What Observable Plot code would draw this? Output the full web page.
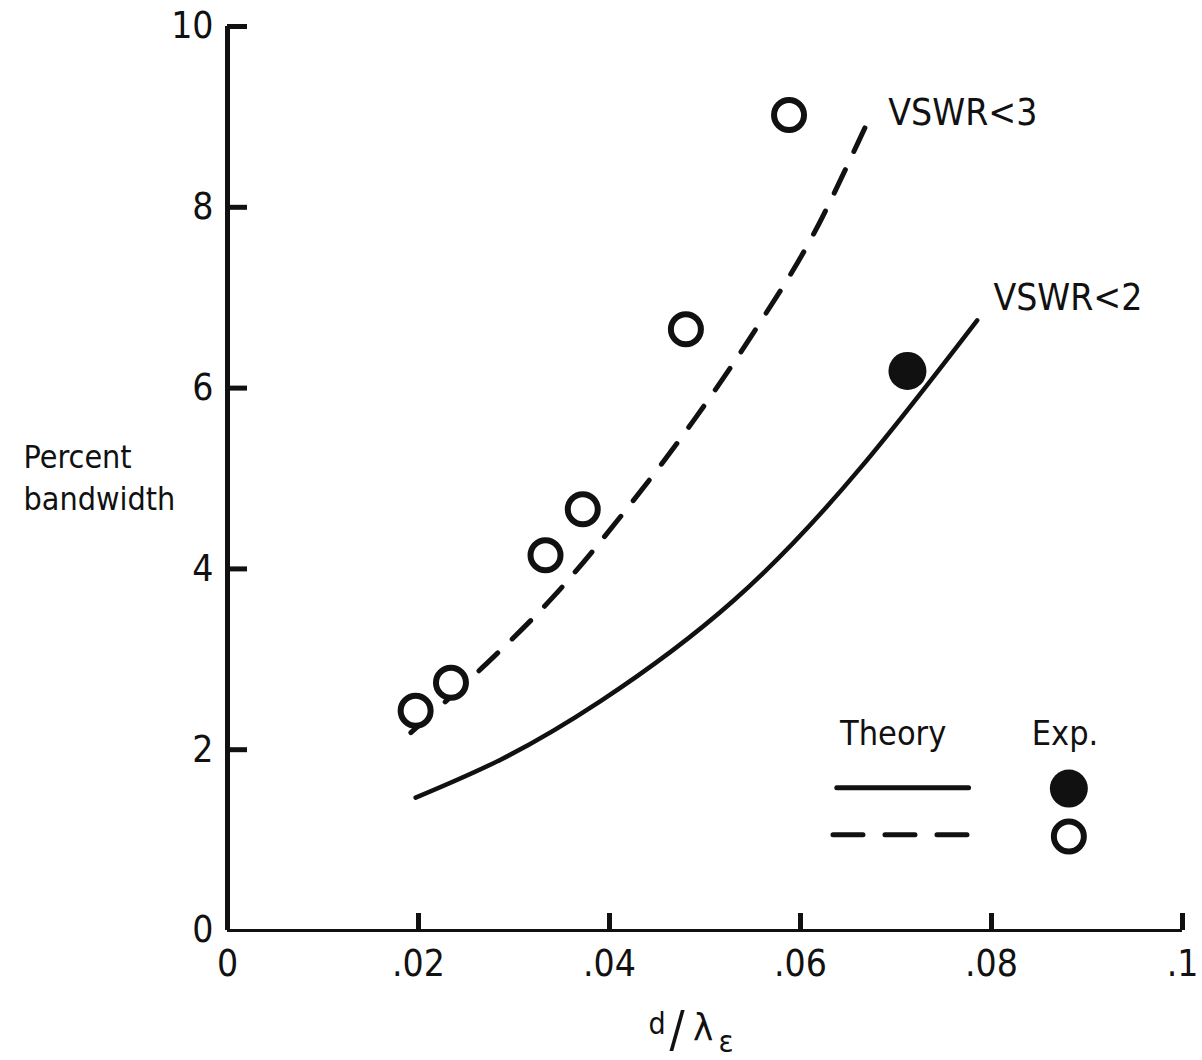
<!DOCTYPE html>
<html><head><meta charset="utf-8">
<script src="https://cdn.jsdelivr.net/npm/d3@7"></script>
<script src="https://cdn.jsdelivr.net/npm/@observablehq/plot@0.6"></script>
<style>body{margin:0;background:#fff}#chart svg{display:block}</style>
</head><body><div id="chart"></div>
<script>
// ---- data ----
const xTicks = [0, 0.02, 0.04, 0.06, 0.08, 0.1];
const xTickLabels = ["0", ".02", ".04", ".06", ".08", ".1"];
const yTicks = [0, 2, 4, 6, 8, 10];
const yTickLabels = ["0", "2", "4", "6", "8", "10"];

// Theory, VSWR<2 (solid)
const theory2X = [0.0197, 0.0286, 0.0391, 0.0530, 0.0663, 0.0785];
const theory2Y = [1.47, 1.89, 2.54, 3.65, 5.12, 6.75];
// Theory, VSWR<3 (dashed)
const theory3X = [0.0192, 0.0267, 0.0341, 0.0417, 0.0488, 0.0553, 0.0613, 0.0660, 0.0671];
const theory3Y = [2.19, 2.91, 3.69, 4.65, 5.64, 6.65, 7.69, 8.71, 8.96];
// Experiment, VSWR<3 (open circles)
const exp3X = [0.0197, 0.0234, 0.0333, 0.0372, 0.0480, 0.0588];
const exp3Y = [2.43, 2.74, 4.15, 4.66, 6.65, 9.02];
// Experiment, VSWR<2 (filled circle)
const exp2X = [0.0712];
const exp2Y = [6.19];

const curveLabels = ["VSWR<3", "VSWR<2"];
const yLabel = "Percent\nbandwidth";
const legendHeaders = ["Theory", "Exp."];
const xLabelParts = ["d", "/", "λ", "ε"];

// ---- layout ----
const ink = "#111";
const wordFont = "'DejaVu Sans Condensed', 'DejaVu Sans', sans-serif";
const numFont = "'Liberation Sans Narrow', 'DejaVu Sans Condensed', sans-serif";

const zip = (xs, ys) => xs.map((x, i) => ({x, y: ys[i]}));
const t2 = zip(theory2X, theory2Y);
const t3 = zip(theory3X, theory3Y);
const e3 = zip(exp3X, exp3Y);
const e2 = zip(exp2X, exp2Y);

const curveLabelPos = [{x: 0.0692, y: 9.04, text: curveLabels[0]}, {x: 0.0802, y: 7.0, text: curveLabels[1]}];
const legendHeaderPos = [{x: 0.0697, y: 2.17, text: legendHeaders[0]}, {x: 0.0877, y: 2.17, text: legendHeaders[1]}];
const legSolid = [{x: 0.0638, y: 1.58}, {x: 0.0776, y: 1.58}];
const legDash = [{x: 0.0634, y: 1.06}, {x: 0.0776, y: 1.06}];
const legFilled = [{x: 0.0881, y: 1.57}];
const legOpen = [{x: 0.0881, y: 1.04}];

const chart = Plot.plot({
  width: 1202,
  height: 1060,
  marginLeft: 227,
  marginRight: 20,
  marginTop: 26,
  marginBottom: 130,
  style: {fontFamily: wordFont, background: "#fff", color: ink},
  x: {domain: [0, 0.1], axis: null},
  y: {domain: [0, 10], axis: null},
  marks: [
    // axis lines
    Plot.ruleX([0], {stroke: ink, strokeWidth: 5}),
    Plot.ruleY([0], {stroke: ink, strokeWidth: 3}),
    // inward ticks
    Plot.ruleX(xTicks.slice(1), {x: d => d, y1: 0, y2: 0, insetTop: -17, stroke: ink, strokeWidth: 5}),
    Plot.ruleY(yTicks.slice(1), {y: d => d, x1: 0, x2: 0, insetRight: -20, stroke: ink, strokeWidth: 5}),
    // tick labels
    Plot.text(xTicks, {x: d => d, y: 0, text: (d, i) => xTickLabels[i], dy: 34, fontSize: 37, fontFamily: numFont, fill: ink}),
    Plot.text(yTicks, {y: d => d, x: 0, text: (d, i) => yTickLabels[i], dx: -14, textAnchor: "end", fontSize: 37, fontFamily: numFont, fill: ink}),
    // y label
    Plot.text([yLabel], {x: 0, y: 5.03, dx: -204, text: d => d, textAnchor: "start", fontSize: 32, lineHeight: 1.31, fill: ink}),
    // theory curves
    Plot.line(t2, {x: "x", y: "y", curve: "natural", stroke: ink, strokeWidth: 4.5, strokeLinecap: "round"}),
    Plot.line(t3, {x: "x", y: "y", curve: "monotone-x", stroke: ink, strokeWidth: 5, strokeDasharray: "26,20", strokeLinecap: "round"}),
    // experiments
    Plot.dot(e3, {x: "x", y: "y", r: 15, stroke: ink, strokeWidth: 6, fill: "#fff"}),
    Plot.dot(e2, {x: "x", y: "y", r: 19, fill: ink, stroke: "none"}),
    // curve labels
    Plot.text(curveLabelPos, {x: "x", y: "y", text: "text", textAnchor: "start", fontSize: 37, fill: ink}),
    // legend
    Plot.text(legendHeaderPos, {x: "x", y: "y", text: "text", fontSize: 34, fill: ink}),
    Plot.line(legSolid, {x: "x", y: "y", stroke: ink, strokeWidth: 5, strokeLinecap: "round"}),
    Plot.line(legDash, {x: "x", y: "y", stroke: ink, strokeWidth: 5, strokeDasharray: "30,22", strokeLinecap: "round"}),
    Plot.dot(legFilled, {x: "x", y: "y", r: 19, fill: ink, stroke: "none"}),
    Plot.dot(legOpen, {x: "x", y: "y", r: 15, stroke: ink, strokeWidth: 6, fill: "#fff"})
  ]
});

// x-axis label d/λε
const svg = d3.select(chart);
const lbl = svg.append("text")
  .attr("font-family", wordFont)
  .attr("fill", ink);
const partStyle = [
  {x: 657, y: 1034, size: 30},
  {x: 677, y: 1046, size: 50},
  {x: 703, y: 1040, size: 38},
  {x: 726, y: 1052, size: 31}
];
xLabelParts.forEach((t, i) => {
  lbl.append("tspan")
    .attr("x", partStyle[i].x).attr("y", partStyle[i].y)
    .attr("font-size", partStyle[i].size)
    .text(t);
});

document.getElementById("chart").appendChild(chart);
</script>
</body></html>
